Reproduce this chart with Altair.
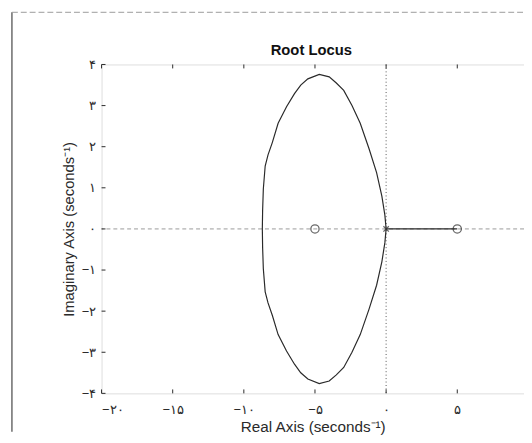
import altair as alt
import pandas as pd

# Root locus branch (closed loop around the origin)
curve_x = [0, -0.09, -0.3, -0.67, -1.2, -1.82, -2.4, -2.98, -3.5, -4.0, -4.7, -5.5, -6.0, -6.44, -7.0, -7.59, -8.0, -8.3, -8.5, -8.63, -8.68, -8.7,
           -8.68, -8.63, -8.5, -8.3, -8.0, -7.59, -7.0, -6.44, -6.0, -5.5, -4.7, -4.0, -3.5, -2.98, -2.4, -1.82, -1.2, -0.67, -0.3, -0.09, 0]
curve_y = [0, 0.34, 0.8, 1.37, 1.95, 2.57, 3.0, 3.37, 3.55, 3.70, 3.76, 3.65, 3.50, 3.29, 2.97, 2.57, 2.1, 1.8, 1.53, 0.97, 0.45, 0,
           -0.45, -0.97, -1.53, -1.8, -2.1, -2.57, -2.97, -3.29, -3.50, -3.65, -3.76, -3.70, -3.55, -3.37, -3.0, -2.57, -1.95, -1.37, -0.8, -0.34, 0]

# Real-axis branch from the pole at 0 to the zero at 5
seg_x = [0, 5]
seg_y = [0, 0]

zeros_x = [-5, 5]
zeros_y = [0, 0]
poles_x = [0]
poles_y = [0]

x_ticks = [-20, -15, -10, -5, 0, 5]
y_ticks = [-4, -3, -2, -1, 0, 1, 2, 3, 4]

chart_title = ["Root Locus"]

X_DOMAIN = [-20, 9.69]
Y_DOMAIN = [-4, 4]
FONT = "Liberation Sans, DejaVu Sans, Arial"
INK = "#2a2a2a"

persian = "replace(replace(replace(replace(replace(replace(replace(replace(replace(replace(replace(toString(datum.value),'-','\u2212'),'0','\u06f0'),'1','\u06f1'),'2','\u06f2'),'3','\u06f3'),'4','\u06f4'),'5','\u06f5'),'6','\u06f6'),'7','\u06f7'),'8','\u06f8'),'9','\u06f9')"

xs = alt.Scale(domain=X_DOMAIN, nice=False, zero=False)
ys = alt.Scale(domain=Y_DOMAIN, nice=False, zero=False)

curve_df = pd.DataFrame({"x": curve_x, "y": curve_y, "i": list(range(len(curve_x)))})
seg_df = pd.DataFrame({"x": seg_x, "y": seg_y})
zeros_df = pd.DataFrame({"x": zeros_x, "y": zeros_y})
poles_df = pd.DataFrame({"x": poles_x, "y": poles_y})
xt_df = pd.DataFrame({"v": x_ticks})
yt_df = pd.DataFrame({"v": y_ticks})

base_x = alt.X("x:Q", scale=xs,
               axis=alt.Axis(values=x_ticks, labelExpr=persian, tickSize=0, domain=False, grid=False,
                             labelPadding=10, labelFontSize=13, labelColor=INK,
                             title="Real Axis (seconds\u207b\u00b9)", titleFontSize=15.5, titleFontWeight="normal",
                             titleColor=INK, titlePadding=4))
base_y = alt.Y("y:Q", scale=ys,
               axis=alt.Axis(values=y_ticks, labelExpr=persian, tickSize=0, domain=False, grid=False,
                             labelPadding=6, labelFontSize=13, labelColor=INK,
                             title="Imaginary Axis (seconds\u207b\u00b9)", titleFontSize=15, titleFontWeight="normal",
                             titleColor=INK, titlePadding=5))

curve = alt.Chart(curve_df).mark_line(color=INK, strokeWidth=1.2, clip=True).encode(
    x=base_x, y=base_y, order="i:Q")

# zero lines (dashed horizontal, dotted vertical)
hline = alt.Chart(pd.DataFrame({"y": [0]})).mark_rule(color="#9a9a9a", strokeDash=[4, 3], strokeWidth=1).encode(
    y=alt.Y("y:Q", scale=ys))
vline = alt.Chart(pd.DataFrame({"x": [0]})).mark_rule(color="#555555", strokeDash=[1, 2.5], strokeWidth=1).encode(
    x=alt.X("x:Q", scale=xs))

seg = alt.Chart(seg_df).mark_line(color=INK, strokeWidth=1.4).encode(
    x=alt.X("x:Q", scale=xs), y=alt.Y("y:Q", scale=ys))

zeros = alt.Chart(zeros_df).mark_point(shape="circle", filled=False, size=70, color=INK, strokeWidth=1.3).encode(
    x=alt.X("x:Q", scale=xs), y=alt.Y("y:Q", scale=ys))
poles = alt.Chart(poles_df).mark_point(shape="M-1,-1L1,1M-1,1L1,-1", filled=False, size=30, color=INK, strokeWidth=1.3).encode(
    x=alt.X("x:Q", scale=xs), y=alt.Y("y:Q", scale=ys))

# inward ticks (MATLAB style)
tick_len = 4
xt_bot = alt.Chart(xt_df).mark_rule(color=INK).encode(
    x=alt.X("v:Q", scale=xs), y=alt.value(334), y2=alt.value(334 - tick_len))
xt_top = alt.Chart(xt_df).mark_rule(color=INK).encode(
    x=alt.X("v:Q", scale=xs), y=alt.value(0), y2=alt.value(tick_len))
yt_left = alt.Chart(yt_df).mark_rule(color=INK).encode(
    y=alt.Y("v:Q", scale=ys), x=alt.value(0), x2=alt.value(tick_len))

# title
title = alt.Chart(pd.DataFrame({"t": chart_title})).mark_text(
    font=FONT, fontSize=15, fontWeight="bold", color="#111111", align="center", baseline="alphabetic"
).encode(text="t:N", x=alt.value(213), y=alt.value(-10))

# scanned page frame
frame_left = alt.Chart(pd.DataFrame({"a": [0]})).mark_rule(color="#444444", strokeWidth=1.2).encode(
    x=alt.value(-91), y=alt.value(-53), y2=alt.value(373))
frame_top = alt.Chart(pd.DataFrame({"a": [0]})).mark_rule(color="#9a9a9a", strokeWidth=1, strokeDash=[6, 3]).encode(
    x=alt.value(-91), x2=alt.value(429), y=alt.value(-53))

chart = alt.layer(
    hline, vline, curve, seg, zeros, poles, xt_bot, xt_top, yt_left, title, frame_left, frame_top
).properties(
    width=429, height=334,
    autosize=alt.AutoSizeParams(type="none"),
    padding={"left": 95, "top": 54, "right": 0, "bottom": 44},
).configure_view(
    stroke="#222222", strokeWidth=1
).configure_axis(
    labelFont=FONT, titleFont=FONT
).configure(background="white")

chart.save("out.html", embed_options={"renderer": "svg", "actions": False})
